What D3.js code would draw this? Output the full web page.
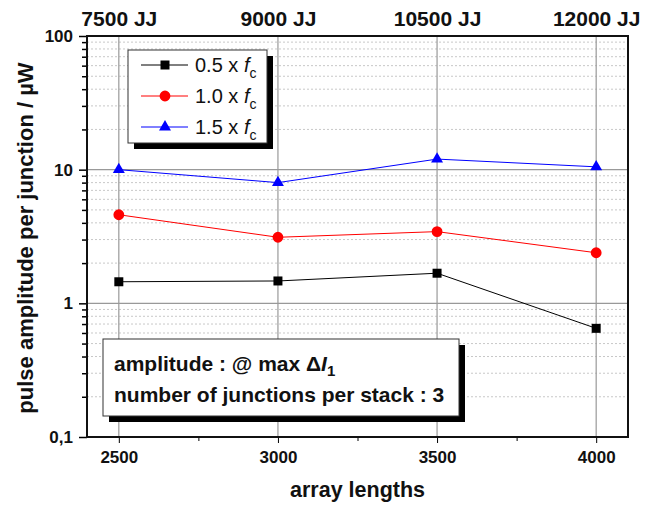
<!DOCTYPE html>
<html>
<head>
<meta charset="utf-8">
<script src="https://cdn.jsdelivr.net/npm/d3@7"></script>
<style>
    body { margin: 0; background: #fff; }
    svg { font-family: "Liberation Sans", Arial, sans-serif; }
</style>
</head>
<body>
<script>
const lengths = [2500, 3000, 3500, 4000];
const topLabels = ["7500 JJ", "9000 JJ", "10500 JJ", "12000 JJ"];
const seriesNames = ["0.5", "1.0", "1.5"];
const halfFc = [1.45, 1.47, 1.68, 0.65];
const oneFc = [4.6, 3.12, 3.44, 2.39];
const oneHalfFc = [10.0, 8.0, 12.0, 10.5];
const yTicks = [0.1, 1, 10, 100];
const yTickLabels = ["0,1", "1", "10", "100"];

document.addEventListener("DOMContentLoaded", () => {
    const width = 670;
    const height = 506;
    const margin = { top: 36, right: 42, bottom: 69, left: 87 };

    const xScale = d3.scaleLinear()
        .domain([2400, 4100])
        .range([margin.left, width - margin.right]);

    const yScale = d3.scaleLog()
        .domain([0.1, 100])
        .range([height - margin.bottom, margin.top]);

    const svg = d3.select("body")
        .append("svg")
        .attr("width", width)
        .attr("height", height);

    const x0 = margin.left, x1 = width - margin.right;
    const y0 = height - margin.bottom, y1 = margin.top;

    // minor grid (dotted) for 2..9 of each decade
    const minors = [];
    [0.1, 1, 10].forEach(dec => {
        for (let k = 2; k <= 9; k++) minors.push(dec * k);
    });
    svg.append("g")
        .selectAll("line")
        .data(minors)
        .enter()
        .append("line")
        .attr("x1", x0).attr("x2", x1)
        .attr("y1", d => yScale(d)).attr("y2", d => yScale(d))
        .attr("stroke", "#c8c8c8")
        .attr("stroke-width", 1)
        .attr("stroke-dasharray", "2,2");

    // major grid
    svg.append("g")
        .selectAll("line")
        .data([1, 10])
        .enter()
        .append("line")
        .attr("x1", x0).attr("x2", x1)
        .attr("y1", d => yScale(d)).attr("y2", d => yScale(d))
        .attr("stroke", "#999")
        .attr("stroke-width", 1.2);

    svg.append("g")
        .selectAll("line")
        .data(lengths)
        .enter()
        .append("line")
        .attr("x1", d => xScale(d)).attr("x2", d => xScale(d))
        .attr("y1", y1).attr("y2", y0)
        .attr("stroke", "#999")
        .attr("stroke-width", 1.2);

    // axes
    const xAxis = d3.axisBottom(xScale)
        .tickValues(lengths)
        .tickSize(6)
        .tickPadding(8)
        .tickFormat(d => d);
    const gx = svg.append("g")
        .attr("transform", `translate(0,${y0})`)
        .call(xAxis);
    gx.select(".domain").remove();
    gx.selectAll("text").style("font-size", "17px").style("font-weight", "bold").attr("fill", "#111");

    const gxMinor = svg.append("g")
        .attr("transform", `translate(0,${y0})`)
        .call(d3.axisBottom(xScale).tickValues([2750, 3250, 3750]).tickSize(4).tickFormat(""));
    gxMinor.select(".domain").remove();

    const yAxis = d3.axisLeft(yScale)
        .tickValues(yTicks)
        .tickSize(8)
        .tickPadding(6)
        .tickFormat((d, i) => yTickLabels[i]);
    const gy = svg.append("g")
        .attr("transform", `translate(${x0},0)`)
        .call(yAxis);
    gy.select(".domain").remove();
    gy.selectAll("text").style("font-size", "17px").style("font-weight", "bold").attr("fill", "#111");
    gy.selectAll("line").attr("stroke-width", 1.5);

    const gyMinor = svg.append("g")
        .attr("transform", `translate(${x0},0)`)
        .call(d3.axisLeft(yScale).tickValues(minors).tickSize(5).tickFormat(""));
    gyMinor.select(".domain").remove();
    gyMinor.selectAll("line").attr("stroke-width", 1.5);

    const topAxis = d3.axisTop(xScale)
        .tickValues(lengths)
        .tickSize(0)
        .tickPadding(10)
        .tickFormat((d, i) => topLabels[i]);
    const gt = svg.append("g")
        .attr("transform", `translate(0,${y1})`)
        .call(topAxis);
    gt.select(".domain").remove();
    gt.selectAll("text").style("font-size", "21px").style("font-weight", "bold").attr("fill", "#111");

    // frame
    svg.append("rect")
        .attr("x", x0).attr("y", y1)
        .attr("width", x1 - x0).attr("height", y0 - y1)
        .attr("fill", "none")
        .attr("stroke", "#111")
        .attr("stroke-width", 2);

    // series
    const series = [
        { name: seriesNames[0], values: halfFc, color: "#000", marker: "square" },
        { name: seriesNames[1], values: oneFc, color: "#f00", marker: "circle" },
        { name: seriesNames[2], values: oneHalfFc, color: "#00f", marker: "triangle" }
    ];

    const line = d3.line()
        .x((d, i) => xScale(lengths[i]))
        .y(d => yScale(d));

    const symbolOf = {
        square: d3.symbol().type(d3.symbolSquare).size(81),
        circle: d3.symbol().type(d3.symbolCircle).size(92),
        triangle: d3.symbol().type(d3.symbolTriangle).size(62)
    };

    series.forEach(s => {
        svg.append("path")
            .attr("d", line(s.values))
            .attr("fill", "none")
            .attr("stroke", s.color)
            .attr("stroke-width", 1);
        svg.append("g")
            .selectAll("path")
            .data(s.values)
            .enter()
            .append("path")
            .attr("d", symbolOf[s.marker])
            .attr("transform", (d, i) => `translate(${xScale(lengths[i])},${yScale(d)})`)
            .attr("fill", s.color);
    });

    // legend
    const legend = svg.append("g").attr("id", "legend");
    const lx = 128, ly = 50, lw = 139, lh = 93;
    legend.append("rect").attr("x", lx + 6).attr("y", ly + 6).attr("width", lw).attr("height", lh).attr("fill", "#000");
    legend.append("rect").attr("x", lx).attr("y", ly).attr("width", lw).attr("height", lh)
        .attr("fill", "#fff").attr("stroke", "#333").attr("stroke-width", 1);

    series.forEach((s, i) => {
        const cy = ly + 15 + i * 31;
        legend.append("line")
            .attr("x1", lx + 13).attr("x2", lx + 60)
            .attr("y1", cy).attr("y2", cy)
            .attr("stroke", s.color).attr("stroke-width", 1);
        legend.append("path")
            .attr("d", symbolOf[s.marker])
            .attr("transform", `translate(${lx + 37},${cy})`)
            .attr("fill", s.color);
        const t = legend.append("text")
            .attr("x", lx + 67).attr("y", cy + 7)
            .style("font-size", "20px")
            .attr("fill", "#111");
        t.append("tspan").text(`${s.name} x `);
        t.append("tspan").style("font-style", "italic").text("f");
        t.append("tspan").attr("dy", 6).style("font-size", "14px").text("c");
    });

    // annotation box
    const note = svg.append("g");
    const nx = 103, ny = 339, nw = 356, nh = 77;
    note.append("rect").attr("x", nx + 6).attr("y", ny + 6).attr("width", nw).attr("height", nh).attr("fill", "#000");
    note.append("rect").attr("x", nx).attr("y", ny).attr("width", nw).attr("height", nh)
        .attr("fill", "#fff").attr("stroke", "#333").attr("stroke-width", 1);
    const n1 = note.append("text")
        .attr("x", nx + 11).attr("y", ny + 32)
        .style("font-size", "21px").style("font-weight", "bold").attr("fill", "#111");
    n1.append("tspan").text("amplitude : @ max Δ");
    n1.append("tspan").style("font-style", "italic").text("I");
    n1.append("tspan").attr("dy", 5).style("font-size", "15px").text("1");
    note.append("text")
        .attr("x", nx + 11).attr("y", ny + 63)
        .style("font-size", "21px").style("font-weight", "bold").attr("fill", "#111")
        .text("number of junctions per stack : 3");

    // axis titles
    svg.append("text")
        .attr("x", (x0 + x1) / 2).attr("y", 497)
        .attr("text-anchor", "middle")
        .style("font-size", "21.5px").style("font-weight", "bold").attr("fill", "#111")
        .text("array lengths");

    svg.append("text")
        .attr("transform", `translate(33,238) rotate(-90)`)
        .attr("text-anchor", "middle")
        .style("font-size", "22px").style("font-weight", "bold").attr("fill", "#111")
        .text("pulse amplitude per junction / µW");
});
</script>
</body>
</html>
